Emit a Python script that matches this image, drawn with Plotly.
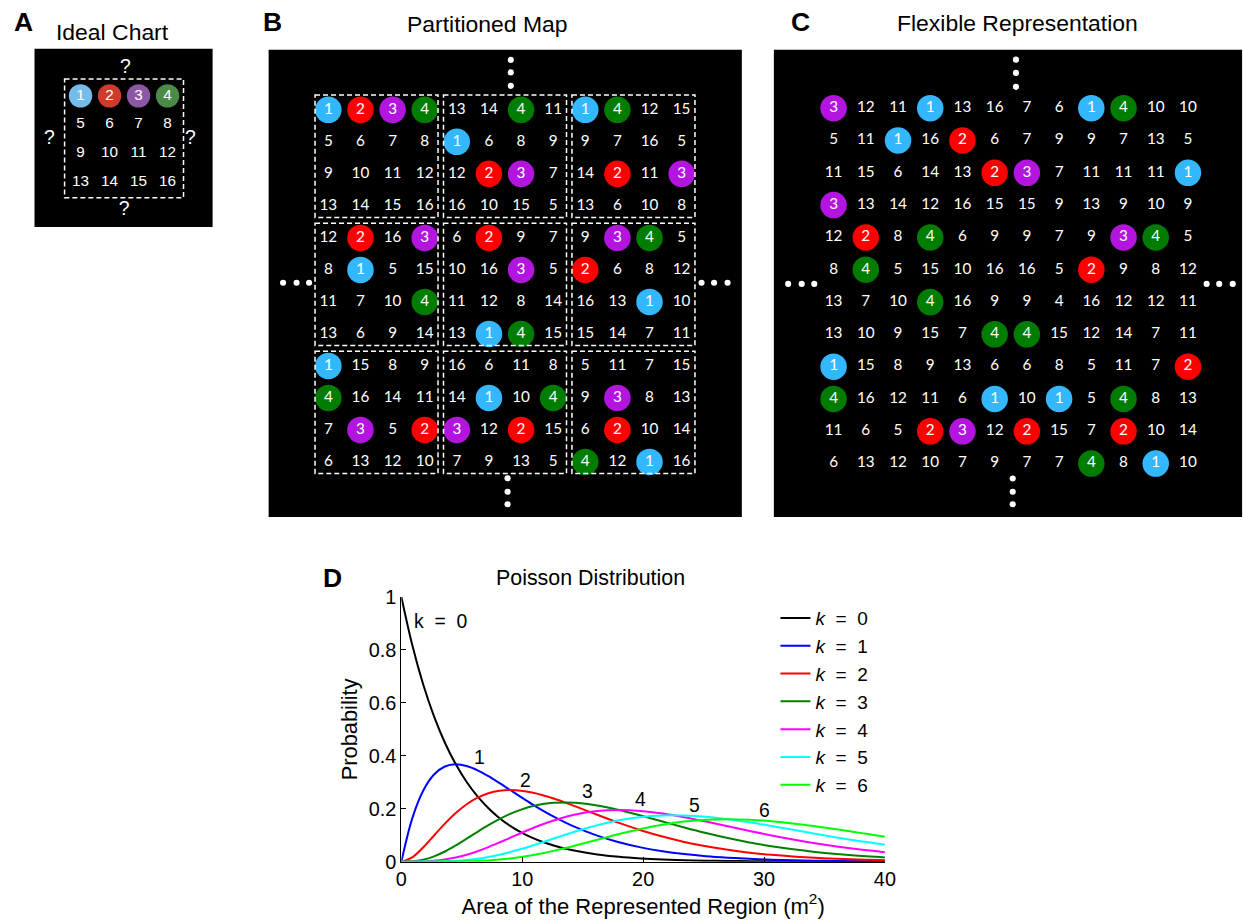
import plotly.graph_objects as go

# ---------------- data ----------------
# Panel A: ideal chart (4x4)
A_values = [[1, 2, 3, 4],
            [5, 6, 7, 8],
            [9, 10, 11, 12],
            [13, 14, 15, 16]]

# Panel B: partitioned map (3x3 blocks of 4x4)
B_values = [[1, 2, 3, 4, 13, 14, 4, 11, 1, 4, 12, 15],
            [5, 6, 7, 8, 1, 6, 8, 9, 9, 7, 16, 5],
            [9, 10, 11, 12, 12, 2, 3, 7, 14, 2, 11, 3],
            [13, 14, 15, 16, 16, 10, 15, 5, 13, 6, 10, 8],
            [12, 2, 16, 3, 6, 2, 9, 7, 9, 3, 4, 5],
            [8, 1, 5, 15, 10, 16, 3, 5, 2, 6, 8, 12],
            [11, 7, 10, 4, 11, 12, 8, 14, 16, 13, 1, 10],
            [13, 6, 9, 14, 13, 1, 4, 15, 15, 14, 7, 11],
            [1, 15, 8, 9, 16, 6, 11, 8, 5, 11, 7, 15],
            [4, 16, 14, 11, 14, 1, 10, 4, 9, 3, 8, 13],
            [7, 3, 5, 2, 3, 12, 2, 15, 6, 2, 10, 14],
            [6, 13, 12, 10, 7, 9, 13, 5, 4, 12, 1, 16]]

# Panel C: flexible representation (12x12)
C_values = [[3, 12, 11, 1, 13, 16, 7, 6, 1, 4, 10, 10],
            [5, 11, 1, 16, 2, 6, 7, 9, 9, 7, 13, 5],
            [11, 15, 6, 14, 13, 2, 3, 7, 11, 11, 11, 1],
            [3, 13, 14, 12, 16, 15, 15, 9, 13, 9, 10, 9],
            [12, 2, 8, 4, 6, 9, 9, 7, 9, 3, 4, 5],
            [8, 4, 5, 15, 10, 16, 16, 5, 2, 9, 8, 12],
            [13, 7, 10, 4, 16, 9, 9, 4, 16, 12, 12, 11],
            [13, 10, 9, 15, 7, 4, 4, 15, 12, 14, 7, 11],
            [1, 15, 8, 9, 13, 6, 6, 8, 5, 11, 7, 2],
            [4, 16, 12, 11, 6, 1, 10, 1, 5, 4, 8, 13],
            [11, 6, 5, 2, 3, 12, 2, 15, 7, 2, 10, 14],
            [6, 13, 12, 10, 7, 9, 7, 7, 4, 8, 1, 10]]
C_uncircled = [(6, 7)]  # a "4" shown without a circle

# Panel D: Poisson probabilities vs. area (m^2)
area = [0, 0.9, 1.8, 2.7, 3.6, 4.5, 5.4, 6.3, 7.2, 8.1, 9.0, 9.9, 10.8, 11.7, 12.6,
        13.5, 14.4, 16.2, 18.0, 19.8, 21.6, 23.4, 25.2, 27.0, 28.8, 30.6, 32.4,
        34.2, 36.0, 37.8, 39.6, 40.0]
prob_k0 = [1, 0.8187, 0.6703, 0.5488, 0.4493, 0.3679, 0.3012, 0.2466, 0.2019, 0.1653,
           0.1353, 0.1108, 0.0907, 0.0743, 0.0608, 0.0498, 0.0408, 0.0273, 0.0183,
           0.0123, 0.0082, 0.0055, 0.0037, 0.0025, 0.0017, 0.0011, 0.0007, 0.0005,
           0.0003, 0.0002, 0.0002, 0.0001]
prob_k1 = [0, 0.1637, 0.2681, 0.3293, 0.3595, 0.3679, 0.3614, 0.3452, 0.3230, 0.2975,
           0.2707, 0.2438, 0.2177, 0.1931, 0.1703, 0.1494, 0.1304, 0.0984, 0.0733,
           0.0540, 0.0395, 0.0287, 0.0207, 0.0149, 0.0106, 0.0076, 0.0054, 0.0038,
           0.0027, 0.0019, 0.0013, 0.0012]
prob_k2 = [0, 0.0164, 0.0536, 0.0988, 0.1438, 0.1839, 0.2169, 0.2417, 0.2584, 0.2678,
           0.2707, 0.2681, 0.2613, 0.2510, 0.2384, 0.2240, 0.2087, 0.1771, 0.1465,
           0.1188, 0.0948, 0.0746, 0.0580, 0.0446, 0.0340, 0.0258, 0.0194, 0.0144,
           0.0107, 0.0079, 0.0058, 0.0054]
prob_k3 = [0, 0.0011, 0.0072, 0.0198, 0.0383, 0.0613, 0.0867, 0.1128, 0.1378, 0.1607,
           0.1804, 0.1966, 0.2090, 0.2176, 0.2225, 0.2240, 0.2226, 0.2125, 0.1954,
           0.1743, 0.1517, 0.1293, 0.1083, 0.0892, 0.0726, 0.0584, 0.0465, 0.0366,
           0.0286, 0.0222, 0.0171, 0.0161]
prob_k4 = [0, 0.0001, 0.0007, 0.0030, 0.0077, 0.0153, 0.0260, 0.0395, 0.0551, 0.0723,
           0.0902, 0.1082, 0.1254, 0.1414, 0.1557, 0.1680, 0.1781, 0.1912, 0.1954,
           0.1917, 0.1820, 0.1681, 0.1516, 0.1339, 0.1162, 0.0992, 0.0836, 0.0695,
           0.0573, 0.0466, 0.0377, 0.0359]
prob_k5 = [0, 0.0000, 0.0001, 0.0004, 0.0012, 0.0031, 0.0062, 0.0111, 0.0176, 0.0260,
           0.0361, 0.0476, 0.0602, 0.0735, 0.0872, 0.1008, 0.1140, 0.1377, 0.1563,
           0.1687, 0.1748, 0.1748, 0.1698, 0.1606, 0.1487, 0.1349, 0.1204, 0.1056,
           0.0916, 0.0784, 0.0663, 0.0638]
prob_k6 = [0, 0.0000, 0.0000, 0.0000, 0.0002, 0.0005, 0.0012, 0.0026, 0.0047, 0.0078,
           0.0120, 0.0174, 0.0241, 0.0319, 0.0407, 0.0504, 0.0608, 0.0826, 0.1042,
           0.1237, 0.1398, 0.1515, 0.1585, 0.1606, 0.1586, 0.1529, 0.1445, 0.1338,
           0.1221, 0.1097, 0.0972, 0.0945]
k_labels = ["k&nbsp;&nbsp;=&nbsp;&nbsp;0", "1", "2", "3", "4", "5", "6"]
k_label_x = [3.3, 6.45, 10.3, 15.4, 19.8, 24.25, 30.0]
k_label_y = [0.91, 0.396, 0.308, 0.267, 0.237, 0.214, 0.195]

# ---------------- page geometry ----------------
# Positions below are given in picture pixels; the page is slightly larger and
# is mapped onto the picture with a small offset and scale.
OX, SX = 5.5, 0.986
OY, SY = 11.2, 0.976
W, H = 1256, 932
S = 1.019  # size scale for fonts / markers


def PX(r):
    return (r - OX) / SX


def PY(r):
    return (r - OY) / SY


def dom_x(a, b):
    return [PX(a) / W, PX(b) / W]


def dom_y(top, bottom):
    return [1 - PY(bottom) / H, 1 - PY(top) / H]


def fs(v):
    return round(v * S, 2)


# ---------------- styles ----------------
ARIAL = "Liberation Sans, Arial, Helvetica, sans-serif"
CALIBRI = "Lato, Carlito, Calibri, sans-serif"
A_colors = {1: "#74bdea", 2: "#cc3b2c", 3: "#8c58a6", 4: "#4b8b47"}
BC_colors = {1: "#33b8ff", 2: "#ff0000", 3: "#b414e0", 4: "#007d00"}
D_colors = ["#000000", "#0000ff", "#ff0000", "#008000", "#ff00ff", "#00ffff", "#00ff00"]


def grid_traces(values, xa, ya, colors, size, font, fsize, uncircled=()):
    cx, cy, ct, cc, px, py, pt = [], [], [], [], [], [], []
    for r, row in enumerate(values):
        for c, v in enumerate(row):
            if v <= 4 and (r, c) not in uncircled:
                cx.append(c); cy.append(r); ct.append(str(v)); cc.append(colors[v])
            else:
                px.append(c); py.append(r); pt.append(str(v))
    return [
        go.Scatter(x=cx, y=cy, mode="markers+text", text=ct, textposition="middle center",
                   marker=dict(color=cc, size=size, line=dict(width=0)),
                   textfont=dict(color="white", family=font, size=fsize),
                   xaxis=xa, yaxis=ya, showlegend=False, hoverinfo="skip"),
        go.Scatter(x=px, y=py, mode="text", text=pt, textposition="middle center",
                   textfont=dict(color="white", family=font, size=fsize),
                   xaxis=xa, yaxis=ya, showlegend=False, hoverinfo="skip"),
    ]


def dots(xs, ys, xa, ya):
    return go.Scatter(x=xs, y=ys, mode="markers", marker=dict(color="white", size=fs(6)),
                      xaxis=xa, yaxis=ya, showlegend=False, hoverinfo="skip")


fig = go.Figure()

# ---- Panel D curves ----
prob_series = [prob_k0, prob_k1, prob_k2, prob_k3, prob_k4, prob_k5, prob_k6]
for k, ys in enumerate(prob_series):
    fig.add_trace(go.Scatter(x=area, y=ys, mode="lines", line=dict(color=D_colors[k], width=2, shape="spline"),
                             name=f"<i>k</i>&nbsp;&nbsp;=&nbsp;&nbsp;{k}", legendgroup=f"k{k}",
                             xaxis="x", yaxis="y"))

# ---- Panel A ----
for t in grid_traces(A_values, "x2", "y2", A_colors, fs(23), ARIAL, fs(15)):
    fig.add_trace(t)
fig.add_trace(go.Scatter(x=[1.55, 1.5, -1.07, 3.79], y=[-0.98, 3.97, 1.5, 1.5], mode="text",
                         text=["?", "?", "?", "?"], textfont=dict(color="white", family=ARIAL, size=fs(19)),
                         xaxis="x2", yaxis="y2", showlegend=False, hoverinfo="skip"))

# ---- Panel B ----
for t in grid_traces(B_values, "x3", "y3", BC_colors, fs(26), CALIBRI, fs(15)):
    fig.add_trace(t)
fig.add_trace(dots([5.68, 5.68, 5.68, 5.58, 5.58, 5.58, -1.41, -0.99, -0.60, 11.62, 12.01, 12.43],
                   [-1.56, -1.17, -0.75, 11.51, 11.93, 12.32, 5.40, 5.40, 5.40, 5.40, 5.40, 5.40], "x3", "y3"))

# ---- Panel C ----
for t in grid_traces(C_values, "x4", "y4", BC_colors, fs(26), CALIBRI, fs(15), C_uncircled):
    fig.add_trace(t)
fig.add_trace(dots([5.66, 5.66, 5.66, 5.56, 5.56, 5.56, -1.41, -0.99, -0.60, 11.58, 11.97, 12.39],
                   [-1.50, -1.09, -0.66, 11.46, 11.87, 12.26, 5.44, 5.44, 5.44, 5.44, 5.44, 5.44], "x4", "y4"))

# ---- shapes: panel backgrounds and dashed boxes ----
shapes = []
for xa, ya in [("x2", "y2"), ("x3", "y3"), ("x4", "y4")]:
    shapes.append(dict(type="rect", xref=f"{xa} domain", yref=f"{ya} domain", x0=0, x1=1, y0=0, y1=1,
                       fillcolor="black", line=dict(width=0), layer="below"))
dash = dict(color="white", width=1.5, dash="5px,3px")
shapes.append(dict(type="rect", xref="x2", yref="y2", x0=-0.55, x1=3.55, y0=-0.59, y1=3.55, line=dash))
for br in range(3):
    for bc in range(3):
        cxm = 4 * bc + 1.5
        cym = 4 * br + 1.5 - 0.05
        shapes.append(dict(type="rect", xref="x3", yref="y3", x0=cxm - 1.915, x1=cxm + 1.915,
                           y0=cym - 1.91, y1=cym + 1.91, line=dash))

# ---- annotations ----
ann = []
def txt(x, y, s, size, bold=False, xref="paper", yref="paper", font=ARIAL):
    if xref == "paper":
        x = PX(x) / W
        y = 1 - PY(y) / H
    ann.append(dict(x=x, y=y, xref=xref, yref=yref, text=f"<b>{s}</b>" if bold else s, showarrow=False,
                    font=dict(family=font, size=fs(size), color="black"), xanchor="center", yanchor="middle"))

txt(23, 22.5, "A", 26, bold=True)
txt(111.7, 31.7, "Ideal Chart", 22.5)
txt(272, 22, "B", 26, bold=True)
txt(487, 24, "Partitioned Map", 22.5)
txt(800, 22, "C", 26, bold=True)
txt(1017, 23, "Flexible Representation", 22.5)
txt(331.6, 578, "D", 26, bold=True)
txt(590, 578, "Poisson Distribution", 21)
for s, lx, ly in zip(k_labels, k_label_x, k_label_y):
    txt(lx, ly, s, 19, xref="x", yref="y")

fig.update_layout(
    width=W, height=H, margin=dict(l=0, r=0, t=0, b=0),
    paper_bgcolor="white", plot_bgcolor="white",
    font=dict(family=ARIAL, color="black"),
    shapes=shapes, annotations=ann,
    showlegend=True,
    legend=dict(x=780 / W, y=1 - 602.3 / H, xanchor="left", yanchor="top", bgcolor="rgba(0,0,0,0)",
                font=dict(family=ARIAL, size=19, color="black"), itemwidth=30, tracegroupgap=0.1),
    xaxis=dict(domain=dom_x(400.7, 884), range=[0, 40], tickvals=[0, 10, 20, 30, 40],
               ticks="inside", ticklen=5, tickcolor="black", showline=True, linecolor="black", linewidth=1,
               showgrid=False, zeroline=False, tickfont=dict(size=fs(19.5), family=ARIAL), anchor="y",
               title=dict(text="Area of the Represented Region (m<sup>2</sup>)", font=dict(size=22, family=ARIAL),
                          standoff=7)),
    yaxis=dict(domain=dom_y(597, 861.5), range=[0, 1], tickvals=[0, 0.2, 0.4, 0.6, 0.8, 1],
               ticktext=["0", "0.2", "0.4", "0.6", "0.8", "1"],
               ticks="inside", ticklen=5, tickcolor="black", showline=True, linecolor="black", linewidth=1,
               showgrid=False, zeroline=False, tickfont=dict(size=fs(19.5), family=ARIAL), anchor="x",
               title=dict(text="Probability", font=dict(size=21.8, family=ARIAL), standoff=5)),
    xaxis2=dict(domain=dom_x(34, 212), range=[-1.586, 4.552], visible=False, fixedrange=True, anchor="y2"),
    yaxis2=dict(domain=dom_y(49, 227), range=[4.564, -1.638], visible=False, fixedrange=True, anchor="x2"),
    xaxis3=dict(domain=dom_x(268, 741), range=[-1.86, 12.875], visible=False, fixedrange=True, anchor="y3"),
    yaxis3=dict(domain=dom_y(50, 517), range=[12.72, -1.875], visible=False, fixedrange=True, anchor="x3"),
    xaxis4=dict(domain=dom_x(773, 1241), range=[-1.854, 12.68], visible=False, fixedrange=True, anchor="y4"),
    yaxis4=dict(domain=dom_y(50, 517), range=[12.653, -1.805], visible=False, fixedrange=True, anchor="x4"),
)

fig.write_html("out.html", config={"displayModeBar": False},
               post_script="document.body.style.margin='0px';")
